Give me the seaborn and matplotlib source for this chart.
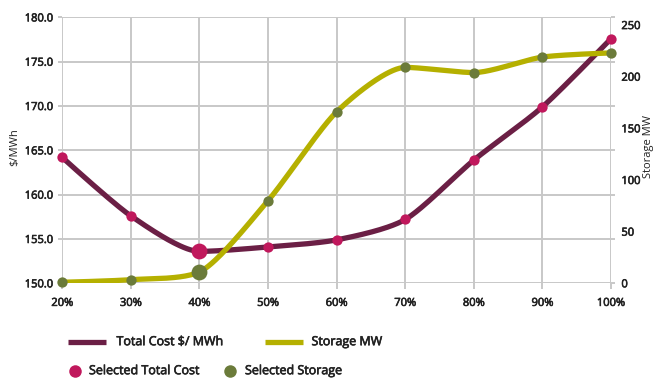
import numpy as np
import pandas as pd
import matplotlib
matplotlib.use("Agg")
import matplotlib.pyplot as plt
import matplotlib.patheffects as pe
import seaborn as sns
from matplotlib.lines import Line2D

# ---- data -------------------------------------------------------------
categories = ["20%", "30%", "40%", "50%", "60%", "70%", "80%", "90%", "100%"]
total_cost = [164.2, 157.6, 153.6, 154.1, 154.9, 157.2, 163.9, 169.9, 177.6]  # $/MWh
storage_mw = [1, 3.5, 11, 80, 166, 209, 204, 219, 223]                        # MW
selected_idx = 2  # the chosen scenario (40%)

cost_ticks = [150, 155, 160, 165, 170, 175, 180]
storage_ticks = [0, 50, 100, 150, 200, 250]

# ---- style ------------------------------------------------------------
COST_LINE = "#6b1f45"
COST_DOT = "#c0185c"
STOR_LINE = "#b5b000"
STOR_DOT = "#6b7b3a"
GRID = "#c8c8c8"
TEXT = "#222222"

sns.set_theme(style="white")
plt.rcParams["font.family"] = ["Open Sans", "DejaVu Sans"]

# slightly heavier strokes for the label text
BOLDISH = [pe.withStroke(linewidth=0.45, foreground=TEXT)]


def spline_path(values, smoothing=3.0, steps=40):
    """Smooth curve through the points using bezier control points
    that never overshoot neighbouring values."""
    y = np.asarray(values, dtype=float)
    n = len(y)
    x = np.arange(n, dtype=float)
    left = np.column_stack([x, y]).copy()
    right = np.column_stack([x, y]).copy()
    d = smoothing + 1
    for i in range(1, n - 1):
        lcx = (smoothing * x[i] + x[i - 1]) / d
        lcy = (smoothing * y[i] + y[i - 1]) / d
        rcx = (smoothing * x[i] + x[i + 1]) / d
        rcy = (smoothing * y[i] + y[i + 1]) / d
        corr = ((rcy - lcy) * (rcx - x[i])) / (rcx - lcx) + y[i] - rcy
        lcy += corr
        rcy += corr
        if lcy > y[i - 1] and lcy > y[i]:
            lcy = max(y[i - 1], y[i]); rcy = 2 * y[i] - lcy
        elif lcy < y[i - 1] and lcy < y[i]:
            lcy = min(y[i - 1], y[i]); rcy = 2 * y[i] - lcy
        if rcy > y[i + 1] and rcy > y[i]:
            rcy = max(y[i + 1], y[i]); lcy = 2 * y[i] - rcy
        elif rcy < y[i + 1] and rcy < y[i]:
            rcy = min(y[i + 1], y[i]); lcy = 2 * y[i] - rcy
        left[i] = (lcx, lcy)
        right[i] = (rcx, rcy)
    t = np.linspace(0, 1, steps)[:, None]
    pts = []
    for i in range(n - 1):
        p0 = np.array([x[i], y[i]]); p3 = np.array([x[i + 1], y[i + 1]])
        p1 = right[i]; p2 = left[i + 1]
        seg = ((1 - t) ** 3) * p0 + 3 * ((1 - t) ** 2) * t * p1 \
            + 3 * (1 - t) * t ** 2 * p2 + t ** 3 * p3
        pts.append(seg if i == 0 else seg[1:])
    pts = np.vstack(pts)
    return pd.DataFrame({"x": pts[:, 0], "y": pts[:, 1]})


W, H = 655, 381
fig = plt.figure(figsize=(W / 100, H / 100), dpi=100)
x0, x1, ytop, ybot = 62.3, 611.0, 17.4, 283.3
ax = fig.add_axes([x0 / W, 1 - ybot / H, (x1 - x0) / W, (ybot - ytop) / H])
ax2 = ax.twinx()

pos = np.arange(len(categories))
df = pd.DataFrame({"pos": pos, "cost": total_cost, "storage": storage_mw})
sel = df.index == selected_idx

# lines
sns.lineplot(data=spline_path(total_cost), x="x", y="y", ax=ax, sort=False,
             estimator=None, color=COST_LINE, linewidth=3.8, zorder=3)
sns.lineplot(data=spline_path(storage_mw), x="x", y="y", ax=ax2, sort=False,
             estimator=None, color=STOR_LINE, linewidth=3.8, zorder=3)

# point markers
sns.scatterplot(data=df[~sel], x="pos", y="cost", ax=ax, color=COST_DOT, s=55,
                linewidth=0, zorder=5, clip_on=False)
sns.scatterplot(data=df[sel], x="pos", y="cost", ax=ax, color=COST_DOT, s=130,
                linewidth=0, zorder=5, clip_on=False)
sns.scatterplot(data=df[~sel], x="pos", y="storage", ax=ax2, color=STOR_DOT, s=55,
                linewidth=0, zorder=5, clip_on=False)
sns.scatterplot(data=df[sel], x="pos", y="storage", ax=ax2, color=STOR_DOT, s=130,
                linewidth=0, zorder=5, clip_on=False)

# axes
ax.set_xlim(0, len(categories) - 1)
ax.set_xticks(pos)
ax.set_xticklabels(categories)
ax.set_ylim(150, 180)
ax.set_yticks(cost_ticks)
ax.set_yticklabels([f"{v:.1f}" for v in cost_ticks])
ax2.set_ylim(0, 257.4)
ax2.set_yticks(storage_ticks)
ax2.set_yticklabels([str(v) for v in storage_ticks])

ax.grid(True, color=GRID, linewidth=1.4)
ax2.grid(False)
for a in (ax, ax2):
    for s in a.spines.values():
        s.set_visible(False)

ax.tick_params(axis="x", length=4.5, width=1.4, color=GRID, pad=6,
               labelsize=8, labelcolor=TEXT, bottom=True)
ax.tick_params(axis="y", length=3, width=1.4, color=GRID, pad=3.5,
               labelsize=8, labelcolor=TEXT, left=True, right=True,
               labelright=False)
ax2.tick_params(axis="y", length=0, pad=7.5, labelsize=8, labelcolor=TEXT)
for lab in ax.get_xticklabels() + ax.get_yticklabels() + ax2.get_yticklabels():
    lab.set_path_effects(BOLDISH)

ax.set_xlabel("")
ax.set_ylabel("")
ax2.set_ylabel("")


def fx(px):
    return px / W


def fy(py):
    return 1 - py / H


# axis titles
fig.text(fx(15), fy(147), "$/MWh", rotation=90, ha="center", va="center",
         fontsize=8, color=TEXT)
fig.text(fx(648), fy(147), "Storage MW", rotation=90, ha="center", va="center",
         fontsize=8, color=TEXT)

# legend
row1, row2 = 341.7, 370.7
legend_font = dict(va="center", ha="left", fontsize=9, color=TEXT,
                   path_effects=BOLDISH)
fig.add_artist(Line2D([fx(68), fx(106)], [fy(row1)] * 2, color=COST_LINE,
                      linewidth=3.8, solid_capstyle="butt"))
fig.text(fx(116.5), fy(row1), "Total Cost $/ MWh", **legend_font)
fig.add_artist(Line2D([fx(265), fx(303)], [fy(row1)] * 2, color=STOR_LINE,
                      linewidth=3.8, solid_capstyle="butt"))
fig.text(fx(311.5), fy(row1), "Storage MW", **legend_font)
fig.add_artist(Line2D([fx(75)], [fy(row2)], marker="o", markersize=9,
                      markeredgewidth=0, color=COST_DOT, linestyle="none"))
fig.text(fx(89), fy(row2), "Selected Total Cost", **legend_font)
fig.add_artist(Line2D([fx(230)], [fy(row2)], marker="o", markersize=9,
                      markeredgewidth=0, color=STOR_DOT, linestyle="none"))
fig.text(fx(245), fy(row2), "Selected Storage", **legend_font)

fig.savefig("out.png", dpi=100, facecolor="white")
